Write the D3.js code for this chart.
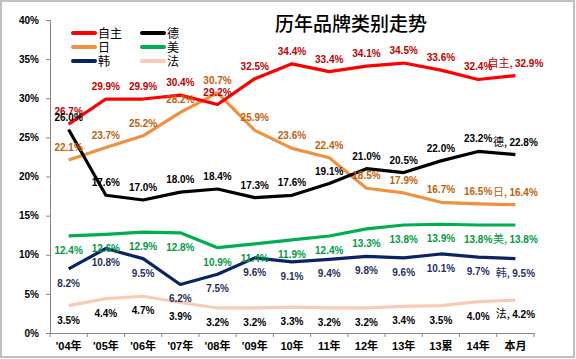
<!DOCTYPE html>
<html><head><meta charset="utf-8">
<script src="https://cdn.jsdelivr.net/npm/d3@7"></script>
<style>
html,body{margin:0;padding:0;background:#fff;}
svg{display:block;}
</style></head>
<body>
<svg id="c" width="576" height="359"></svg>
<script>
const categories = ["'04年","'05年","'06年","'07年","'08年","'09年","10年","11年","12年","13年","13累","14年","本月"];
const seriesNames = ["自主","德","日","美","韩","法"];
const vZizhu = [26.7,29.9,29.9,30.4,29.2,32.5,34.4,33.4,34.1,34.5,33.6,32.4,32.9];
const vDe    = [26.0,17.6,17.0,18.0,18.4,17.3,17.6,19.1,21.0,20.5,22.0,23.2,22.8];
const vRi    = [22.1,23.7,25.2,28.2,30.7,25.9,23.6,22.4,18.5,17.9,16.7,16.5,16.4];
const vMei   = [12.4,12.6,12.9,12.8,10.9,11.4,11.9,12.4,13.3,13.8,13.9,13.8,13.8];
const vHan   = [8.2,10.8,9.5,6.2,7.5,9.6,9.1,9.4,9.8,9.6,10.1,9.7,9.5];
const vFa    = [3.5,4.4,4.7,3.9,3.2,3.2,3.3,3.2,3.2,3.4,3.5,4.0,4.2];
const yTicks = [0,5,10,15,20,25,30,35,40];
const title = "历年品牌类别走势";

const lineColors  = ["#FF0000","#000000","#F0913F","#00B050","#0A2463","#F8CBB4"];
const labelColors = ["#C00000","#000000","#C0600A","#009A44","#1F2F66","#000000"];
const labelAbove  = [true,true,true,false,false,false];
const allValues = [vZizhu,vDe,vRi,vMei,vHan,vFa];

const svg = d3.select("#c");
// outer border
svg.append("rect").attr("x",1).attr("y",1).attr("width",573).attr("height",356)
  .attr("fill","#fff").attr("stroke","#BFBFBF").attr("stroke-width",2);

const x = d3.scaleBand().domain(categories).range([50,534]).padding(0);
const y = d3.scaleLinear().domain([0,40]).range([333,20]);
const cx = c => x(c) + x.bandwidth()/2;

// y axis
const ya = svg.append("g").attr("transform","translate(50,0)")
  .call(d3.axisLeft(y).tickValues(yTicks).tickFormat(d=>d+"%").tickSize(4).tickPadding(7));
ya.select(".domain").attr("stroke","#868686");
ya.selectAll(".tick line").attr("stroke","#868686");
ya.selectAll(".tick text").attr("font-family","Liberation Sans, Arial").attr("font-weight","bold")
  .attr("font-size","10px").attr("fill","#000");

// x axis
const xa = svg.append("g").attr("transform","translate(0,333)")
  .call(d3.axisBottom(x).tickSize(0).tickPadding(9));
xa.select(".domain").attr("stroke","#868686");
xa.selectAll(".tick text").attr("font-family","Liberation Sans, Noto Sans CJK SC").attr("font-weight","bold")
  .attr("font-size","11px").attr("fill","#000");
const bounds = categories.map(c=>x(c)).concat([x.range()[1]]);
xa.selectAll(".bt").data(bounds).enter().append("line").attr("class","bt")
  .attr("x1",d=>d).attr("x2",d=>d).attr("y1",0).attr("y2",4).attr("stroke","#868686");

// lines (draw bottom series first)
const line = d3.line().x((d,i)=>cx(categories[i])).y(d=>y(d));
const order = [5,4,3,2,1,0];
order.forEach(s=>{
  svg.append("path").datum(allValues[s]).attr("d",line)
    .attr("fill","none").attr("stroke",lineColors[s]).attr("stroke-width",3.2)
    .attr("stroke-linejoin","round");
});

// labels
allValues.forEach((vals,s)=>{
  const g = svg.append("g");
  vals.forEach((v,i)=>{
    const t = g.append("text")
      .attr("x",cx(categories[i]))
      .attr("y", labelAbove[s] ? y(v)-9 : y(v)+18)
      .attr("text-anchor","middle")
      .attr("font-family","Liberation Sans, Arial").attr("font-weight","bold")
      .attr("font-size","10px").attr("fill",labelColors[s]);
    if(i===vals.length-1){
      t.append("tspan").attr("font-family","Noto Sans CJK SC").attr("font-weight","normal")
        .attr("font-size","11px").attr("fill", s===5 ? "#000" : labelColors[s])
        .text(seriesNames[s]+", ");
      t.append("tspan").text(v.toFixed(1)+"%");
    } else {
      t.text(v.toFixed(1)+"%");
    }
  });
});

// legend
const legPos = [[73,33],[142,33],[73,47],[142,47],[73,61],[142,61]];
seriesNames.forEach((n,s)=>{
  const [lx,ly] = legPos[s];
  svg.append("line").attr("x1",lx).attr("x2",lx+22).attr("y1",ly).attr("y2",ly)
    .attr("stroke",lineColors[s]).attr("stroke-width",4).attr("stroke-linecap","round");
  svg.append("text").attr("x",lx+25).attr("y",ly+4.5)
    .attr("font-family","Noto Sans CJK SC").attr("font-size","12px").attr("fill","#000").text(n);
});

// title
svg.append("text").attr("x",351).attr("y",31).attr("text-anchor","middle")
  .attr("font-family","Noto Sans CJK SC").attr("font-weight","500").attr("font-size","19px")
  .attr("fill","#000").text(title);
</script>
</body></html>
